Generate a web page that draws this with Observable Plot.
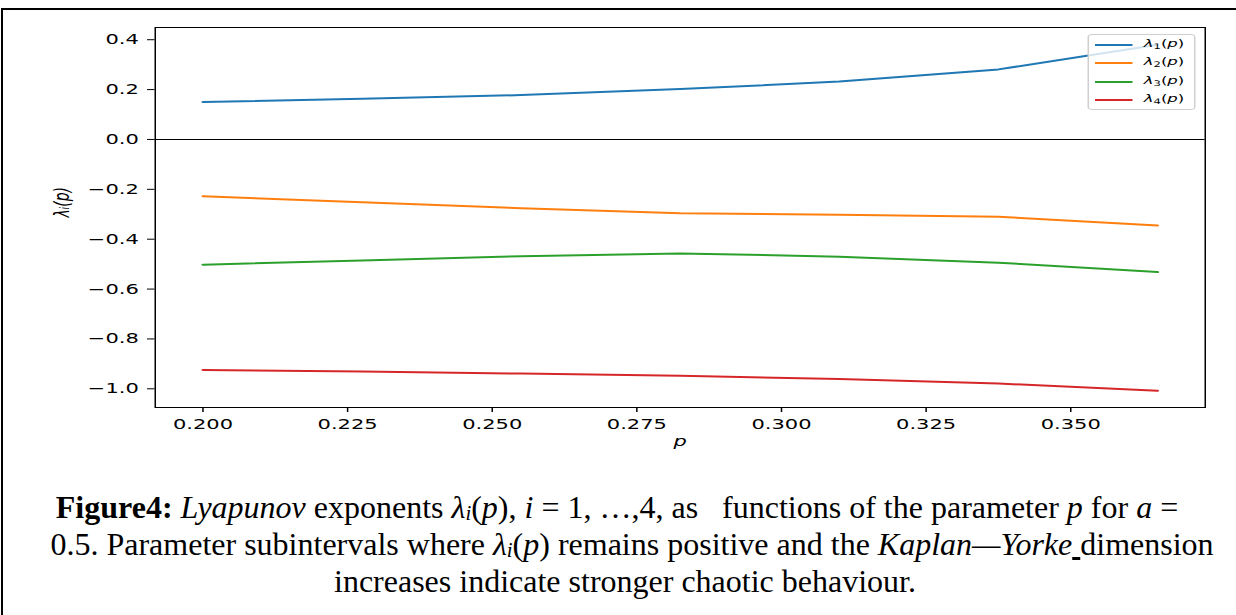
<!DOCTYPE html>
<html>
<head>
<meta charset="utf-8">
<script src="https://cdn.jsdelivr.net/npm/d3@7"></script>
<script src="https://cdn.jsdelivr.net/npm/@observablehq/plot@0.6"></script>
<style>
html, body { margin: 0; padding: 0; background: #fff; width: 1236px; height: 615px; overflow: hidden; }
#border { position: absolute; left: 1px; top: 8px; width: 1300px; height: 700px; border-left: 2px solid #000; border-top: 2px solid #000; }
#wrap { position: absolute; left: 0; top: 0; width: 824px; height: 460px; transform: scaleX(1.5); transform-origin: 0 0; }
#legend { position: absolute; left: 724.5px; top: 34px; width: 72.5px; height: 76px; box-sizing: border-box;
  border: 1px solid #cfcfcf; border-radius: 3px; background: rgba(255,255,255,0.8);
  font-family: "DejaVu Sans"; font-size: 11px; color: #000; }
.swatch { position: absolute; left: 4px; width: 25.5px; height: 2px; }
.ltext { position: absolute; left: 37px; line-height: 14px; white-space: nowrap; }
.ltext sub { font-size: 0.7em; vertical-align: -0.25em; line-height: 0; }
.cap { position: absolute; left: 0; width: 1236px; text-align: center; font-family: "Liberation Serif"; font-size: 32px;
  line-height: 37px; white-space: pre; color: #000; }
.cap .sb { font-size: 0.65em; position: relative; top: 0.1em; line-height: 0; }
</style>
</head>
<body>
<div id="border"></div>
<div id="wrap"><div id="legend"></div></div>
<div class="cap" style="top:489px; left:-1px;"><b>Figure4:</b> <i>Lyapunov</i> exponents <i>λ<span class="sb">i</span></i>(<i>p</i>), <i>i</i> = 1, …,4, as   functions of the parameter <i>p</i> for <i>a</i> =</div>
<div class="cap" style="top:526px; left:14px;">0.5. Parameter subintervals where <i>λ<span class="sb">i</span></i>(<i>p</i>) remains positive and the <i>Kaplan—Yorke</i><u> </u>dimension</div>
<div class="cap" style="top:563px; left:7px;">increases indicate stronger chaotic behaviour.</div>
<script>
// ---- data ----
const pValues = [0.2, 0.2275, 0.255, 0.2825, 0.31, 0.3375, 0.365];
const lambda1 = [0.150, 0.163, 0.178, 0.202, 0.232, 0.281, 0.380];
const lambda2 = [-0.228, -0.252, -0.276, -0.296, -0.302, -0.310, -0.345];
const lambda3 = [-0.502, -0.485, -0.468, -0.457, -0.470, -0.494, -0.532];
const lambda4 = [-0.925, -0.931, -0.939, -0.948, -0.961, -0.979, -1.008];
const seriesSub = ["1", "2", "3", "4"];
const seriesColors = ["#1f77b4", "#ff7f0e", "#2ca02c", "#d62728"];
const xTicks = [0.200, 0.225, 0.250, 0.275, 0.300, 0.325, 0.350];
const yTicks = [-1.0, -0.8, -0.6, -0.4, -0.2, 0.0, 0.2, 0.4];

const allSeries = [lambda1, lambda2, lambda3, lambda4];
const rows = [];
allSeries.forEach((arr, k) => arr.forEach((v, j) => rows.push({p: pValues[j], v, s: k})));

const chart = Plot.plot({
  width: 824, height: 460,
  marginLeft: 103, marginRight: 21, marginTop: 27, marginBottom: 53,
  style: {background: "transparent", fontFamily: "DejaVu Sans", fontSize: "14px", color: "#000", overflow: "visible"},
  x: {domain: [0.19175, 0.37325], ticks: xTicks, tickFormat: d3.format(".3f"), tickSize: 5, tickPadding: 7, label: null},
  y: {domain: [-1.075, 0.449], ticks: yTicks, tickFormat: d3.format(".1f"), tickSize: 5, tickPadding: 6, label: null},
  color: {type: "ordinal", domain: [0, 1, 2, 3], range: seriesColors},
  marks: [
    Plot.ruleY([0], {stroke: "#000", strokeWidth: 1}),
    Plot.lineY(rows, {x: "p", y: "v", z: "s", stroke: "s", strokeWidth: 2}),
    Plot.frame({stroke: "#000", strokeWidth: 1}),
    Plot.text(["λᵢ(p)"], {text: d => d, frameAnchor: "left", rotate: -90, dx: -62, fontStyle: "italic", fontSize: 14}),
    Plot.text(["p"], {text: d => d, frameAnchor: "bottom", dy: 38, lineAnchor: "bottom", fontStyle: "italic", fontSize: 14})
  ]
});
const wrap = document.getElementById("wrap");
wrap.insertBefore(chart, wrap.firstChild);

const legend = document.getElementById("legend");
const rowCenters = [10, 28.3, 46.7, 65];
seriesSub.forEach((sub, k) => {
  const sw = document.createElement("div");
  sw.className = "swatch";
  sw.style.top = (rowCenters[k] - 1) + "px";
  sw.style.background = seriesColors[k];
  legend.appendChild(sw);
  const t = document.createElement("div");
  t.className = "ltext";
  t.style.top = (rowCenters[k] - 8) + "px";
  t.innerHTML = "<i>λ</i><sub>" + sub + "</sub>(<i>p</i>)";
  legend.appendChild(t);
});
</script>
</body>
</html>
